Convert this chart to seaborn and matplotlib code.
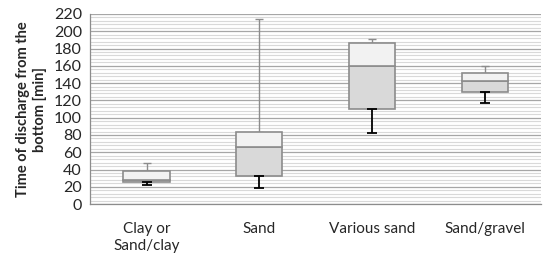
import matplotlib
matplotlib.use('Agg')

import numpy as np
import matplotlib.pyplot as plt
from matplotlib.ticker import MultipleLocator, FixedLocator
import seaborn as sns

# box plot values (Excel-style stacked boxes)
categories = ["Clay or\nSand/clay", "Sand", "Various sand", "Sand/gravel"]
whisker_low = [22, 18.5, 82, 117]
q1 = [25, 33, 109.5, 129.5]
median = [28, 65.5, 160, 142]
q3 = [38.5, 83, 186.5, 151.5]
whisker_high = [47.5, 214, 190.5, 160]

sns.set_style("white")
plt.rcParams['font.family'] = ['Lato', 'DejaVu Sans']

fig = plt.figure(figsize=(5.5, 2.59), dpi=100)
ax = fig.add_axes([0.164, 0.212, 0.82, 0.734])

x = np.arange(len(categories))
lo = np.array(whisker_low)
b1 = np.array(q1)
md = np.array(median)
b3 = np.array(q3)
hi = np.array(whisker_high)

# grid behind everything
ax.set_axisbelow(True)
ax.yaxis.set_major_locator(MultipleLocator(20))
ax.yaxis.set_minor_locator(MultipleLocator(4))
ax.grid(axis='y', which='major', color='#a6a6a6', linewidth=0.9)
ax.grid(axis='y', which='minor', color='#d9d9d9', linewidth=0.8)

width = 0.41
# upper whisker (gray) and lower whisker (black)
ax.errorbar(x, b3, yerr=[np.zeros(len(x)), hi - b3], fmt='none',
            ecolor='#8c8c8c', elinewidth=1.0, capsize=3, capthick=1.0, zorder=2)
ax.errorbar(x, b1, yerr=[b1 - lo, np.zeros(len(x))], fmt='none',
            ecolor='black', elinewidth=1.3, capsize=3.5, capthick=1.3, zorder=4)

ax.bar(x, md - b1, bottom=b1, width=width, color='#d9d9d9',
       edgecolor='#8c8c8c', linewidth=1.2, zorder=3)
ax.bar(x, b3 - md, bottom=md, width=width, color='#f2f2f2',
       edgecolor='#8c8c8c', linewidth=1.2, zorder=3)

ax.set_xlim(-0.5, len(categories) - 0.5)
ax.set_ylim(0, 220)
ax.set_xticks(x)
ax.set_xticklabels(categories, fontsize=11, linespacing=1.25)
ax.xaxis.set_minor_locator(FixedLocator(np.arange(-0.5, len(categories), 1.0)))
ax.tick_params(axis='x', which='major', length=0, pad=13)
ax.tick_params(axis='x', which='minor', length=4, color='#8c8c8c', width=0.9)
ax.tick_params(axis='y', which='major', length=4, color='#8c8c8c', width=0.9,
               labelsize=11.5, pad=2)
ax.tick_params(axis='y', which='minor', length=0)

for s in ['top', 'right']:
    ax.spines[s].set_visible(False)
for s in ['left', 'bottom']:
    ax.spines[s].set_color('#8c8c8c')
    ax.spines[s].set_linewidth(0.9)

ax.set_ylabel("Time of discharge from the\nbottom [min]", fontsize=10.5,
              fontweight='bold', labelpad=5)

fig.savefig("out.png", dpi=100)
